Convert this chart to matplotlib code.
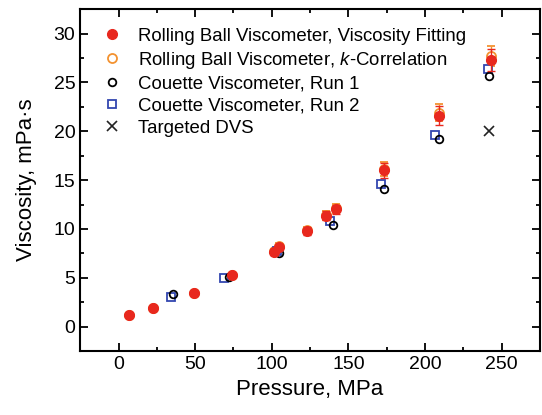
import numpy as np
import matplotlib.pyplot as plt
from matplotlib.ticker import MultipleLocator

plt.rcParams['font.family'] = ['Liberation Sans', 'DejaVu Sans']
plt.rcParams['mathtext.fontset'] = 'custom'
plt.rcParams['mathtext.rm'] = 'Liberation Sans'
plt.rcParams['mathtext.it'] = 'Liberation Sans:italic'

# Rolling ball viscometer, viscosity fitting
p_fit = [6.7, 22.3, 49.5, 74.2, 101.3, 104.5, 123.2, 135.3, 141.8, 173.4, 209.5, 243.0]
v_fit = [1.15, 1.9, 3.45, 5.3, 7.65, 8.2, 9.8, 11.35, 12.0, 16.0, 21.6, 27.3]
e_fit = [0.1, 0.1, 0.15, 0.2, 0.3, 0.3, 0.4, 0.45, 0.5, 0.75, 1.0, 1.1]

# Rolling ball viscometer, k-correlation
p_kc = [6.7, 22.3, 49.5, 74.2, 101.3, 104.5, 123.2, 135.3, 141.8, 173.4, 209.5, 243.0]
v_kc = [1.15, 1.9, 3.45, 5.3, 7.7, 8.25, 9.85, 11.4, 12.1, 16.15, 21.9, 27.7]
e_kc = [0.1, 0.1, 0.15, 0.2, 0.3, 0.3, 0.4, 0.45, 0.5, 0.7, 0.9, 1.0]

# Couette viscometer runs
p_run1 = [35.3, 72.0, 105.0, 139.8, 173.4, 209.0, 242.0]
v_run1 = [3.35, 5.1, 7.5, 10.45, 14.1, 19.2, 25.7]
p_run2 = [34.2, 68.8, 103.4, 138.0, 171.6, 206.7, 241.0]
v_run2 = [3.0, 5.0, 7.75, 10.8, 14.65, 19.6, 26.4]

# Targeted DVS
p_dvs = [242.0]
v_dvs = [20.0]

fig = plt.figure(figsize=(5.42, 4.15), dpi=100)
ax = fig.add_axes([0.148, 0.154, 0.848, 0.824])

red = '#e8281e'
orange = '#f39230'
blue = '#3346b0'

ax.errorbar(p_kc, v_kc, yerr=e_kc, fmt='o', mfc='white', mec=orange, ecolor=orange,
            ms=6.5, mew=1.3, capsize=3, elinewidth=1, zorder=2,
            label=r'Rolling Ball Viscometer, $k$-Correlation')
ax.plot(p_run2, v_run2, 's', mfc='white', mec=blue, ms=5.5, mew=1.3, zorder=3,
        label='Couette Viscometer, Run 2')
ax.plot(p_run1, v_run1, 'o', mfc='none', mec='black', ms=5.5, mew=1.3, zorder=4,
        label='Couette Viscometer, Run 1')
ax.errorbar(p_fit, v_fit, yerr=e_fit, fmt='o', color=red, ecolor=red,
            ms=7, capsize=3, elinewidth=1, zorder=5,
            label='Rolling Ball Viscometer, Viscosity Fitting')
ax.plot(p_dvs, v_dvs, 'x', color='#222222', ms=7, mew=1.2, zorder=4,
        label='Targeted DVS')

ax.set_xlim(-25, 275)
ax.set_ylim(-2.5, 32.5)
ax.xaxis.set_major_locator(MultipleLocator(50))
ax.xaxis.set_minor_locator(MultipleLocator(25))
ax.yaxis.set_major_locator(MultipleLocator(5))
ax.yaxis.set_minor_locator(MultipleLocator(2.5))
ax.tick_params(which='both', direction='in', top=True, right=True, width=1.3)
ax.tick_params(which='major', length=6, labelsize=14)
ax.tick_params(which='minor', length=3)
for s in ax.spines.values():
    s.set_linewidth(1.5)

ax.set_xlabel('Pressure, MPa', fontsize=16)
ax.set_ylabel('Viscosity, mPa·s', fontsize=16, labelpad=12)

h, l = ax.get_legend_handles_labels()
order = [l.index('Rolling Ball Viscometer, Viscosity Fitting'),
         l.index(r'Rolling Ball Viscometer, $k$-Correlation'),
         l.index('Couette Viscometer, Run 1'),
         l.index('Couette Viscometer, Run 2'),
         l.index('Targeted DVS')]
leg_h = []
for i in order:
    hh = h[i]
    if hasattr(hh, 'lines'):
        hh = hh.lines[0]
    leg_h.append(hh)
ax.legend(leg_h, [l[i] for i in order], loc='upper left', frameon=False,
          fontsize=13.4, handlelength=0.95, handletextpad=0.9, labelspacing=0.27,
          borderaxespad=0.6, bbox_to_anchor=(0.01, 1.0))

fig.savefig('out.png', dpi=100)
